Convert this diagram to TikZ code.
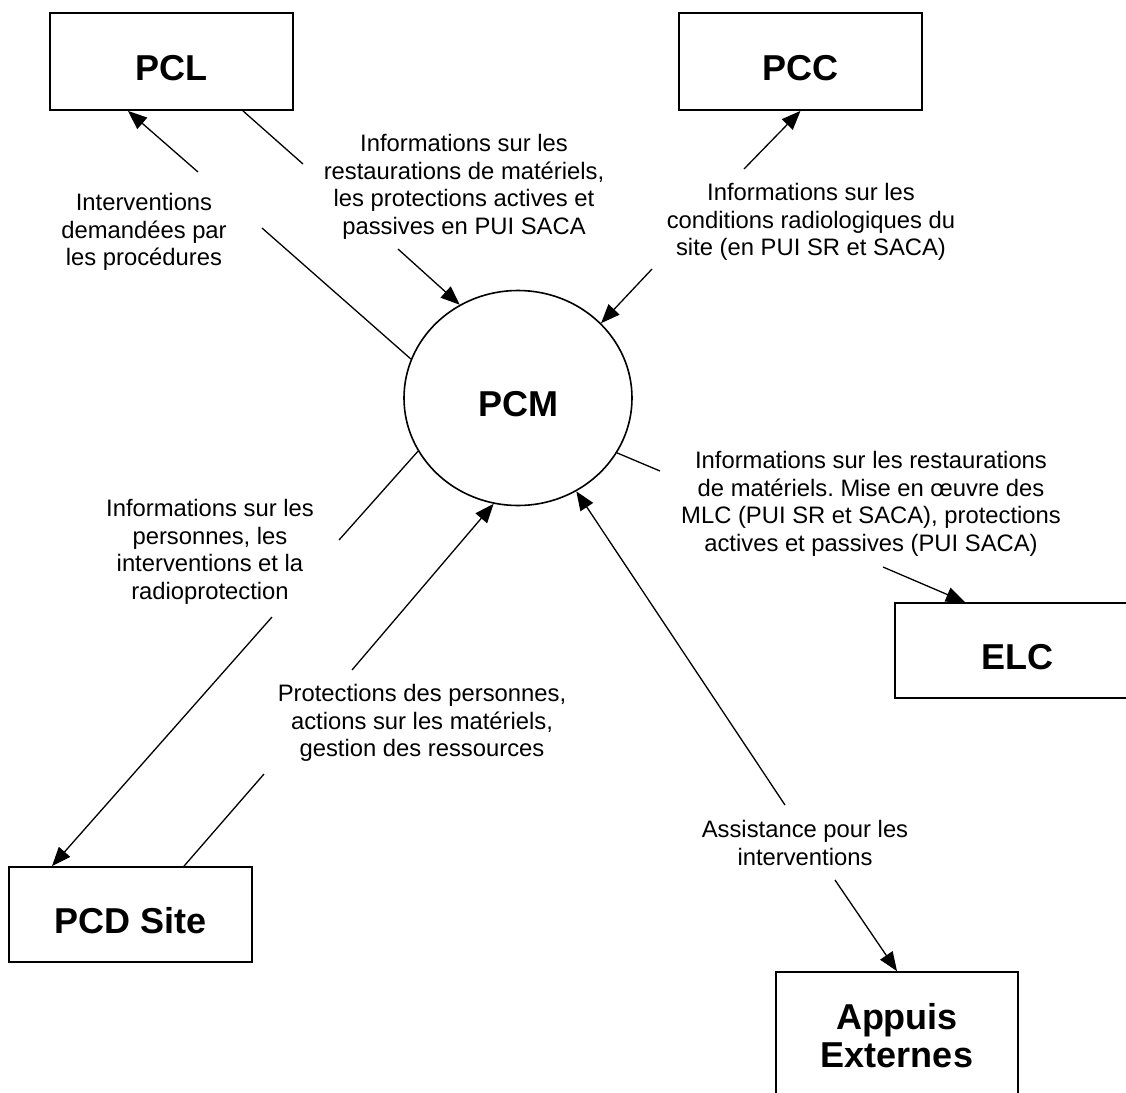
\documentclass[tikz,border=0pt]{standalone}
\usepackage{fontspec}
\setmainfont{Liberation Sans}
\frenchspacing
\usetikzlibrary{positioning,arrows.meta,shapes.geometric}
\tikzset{
  boxbase/.style={draw,line width=0.9pt,minimum width=121.5pt,minimum height=48.5pt,inner sep=0pt,
    font=\fontsize{18}{19}\selectfont\bfseries},
  box/.style={boxbase,text height=18.9pt,text depth=0pt}, % glyphs sit a little low, as in the source
  hub/.style={ellipse,draw,line width=0.8pt,minimum width=114pt,minimum height=107.5pt,inner sep=0pt,
    font=\fontsize{18}{19}\selectfont\bfseries,text height=18.9pt,text depth=0pt},
  lbl/.style={align=center,inner sep=0pt,font=\fontsize{11.9}{13.8}\selectfont},
  flow/.style={line width=0.65pt},
  flowar/.style={flow,-{Triangle[length=9.5pt,width=7.5pt]}},
}

\begin{document}
\begin{tikzpicture}[x=0.5pt,y=-0.5pt]
  \useasboundingbox (0,0) rectangle (1126,1093);
  % the posts around PCM
  \node[box] (pcl) at (171.5,61.5) {PCL};
  \node[box] (pcc) at (800.5,61.5) {PCC};
  \node[box,minimum width=122pt,minimum height=47.5pt] (elc) at (1017,650.5) {ELC};
  \node[box,minimum height=47.5pt] (pcd) at (130.5,914.5) {PCD Site};
  \node[boxbase,align=center,minimum width=121pt,minimum height=64pt] (appuis) at (897,1036) {Appuis\\Externes};
  \node[hub] (pcm) at (518,398) {PCM};
  % what goes along each flow
  \node[lbl] (lblpcl) at (144,232) {Interventions\\demandées par\\les procédures};
  \node[lbl] (lblres) at (464,187) {Informations sur les\\restaurations de matériels,\\les protections actives et\\passives en PUI SACA};
  \node[lbl] (lblradio) at (811,222) {Informations sur les\\conditions radiologiques du\\site (en PUI SR et SACA)};
  \node[lbl] (lblelc) at (871,504) {Informations sur les restaurations\\de matériels. Mise en œuvre des\\MLC (PUI SR et SACA), protections\\actives et passives (PUI SACA)};
  \node[lbl] (lblpers) at (210,552) {Informations sur les\\personnes, les\\interventions et la\\radioprotection};
  \node[lbl] (lblprot) at (422,723) {Protections des personnes,\\actions sur les matériels,\\gestion des ressources};
  \node[lbl] (lblassist) at (805,843) {Assistance pour les\\interventions};
  % free ends where a flow breaks for its label
  \coordinate (c1a) at (198,172);  \coordinate (c1b) at (262,228);
  \coordinate (c2a) at (303,164);  \coordinate (c2b) at (398,249);
  \coordinate (c3a) at (744,169);  \coordinate (c3b) at (652,269);
  \coordinate (c4a) at (660,471);  \coordinate (c4b) at (883,567);
  \coordinate (c5a) at (339,540);  \coordinate (c5b) at (272,617);
  \coordinate (c6a) at (264,774);  \coordinate (c6b) at (352,670);
  \coordinate (c7a) at (785,805);  \coordinate (c7b) at (835,880);
  % flows
  \draw[flow] (pcm.160) -- (c1b);
  \draw[flowar] (c1a) -- ([xshift=-21.75pt]pcl.south);
  \draw[flow] ([xshift=35.75pt]pcl.south) -- (c2a);
  \draw[flowar] (c2b) -- (pcm.122);
  \draw[flowar] (c3a) -- (pcc.south);
  \draw[flowar] (c3b) -- (pcm.42);
  \draw[flow] (pcm.-29) -- (c4a);
  \draw[flowar] (c4b) -- ([xshift=-26pt]elc.north);
  \draw[flow] (pcm.208) -- (c5a);
  \draw[flowar] (c5b) -- ([xshift=-39.25pt]pcd.north);
  \draw[flow] ([xshift=26.75pt]pcd.north) -- (c6a);
  \draw[flowar] (c6b) -- (pcm.-103);
  \draw[flowar] (c7a) -- (pcm.-58);
  \draw[flowar] (c7b) -- (appuis.north);
\end{tikzpicture}
\end{document}
